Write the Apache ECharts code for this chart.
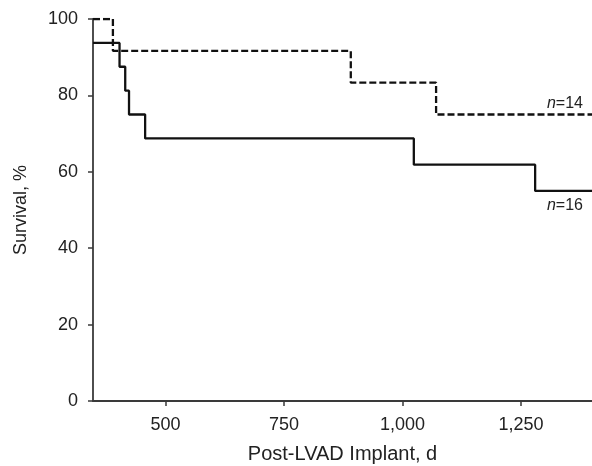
<!DOCTYPE html>
<html>
<head>
<meta charset="utf-8">
<script src="https://cdn.jsdelivr.net/npm/echarts@6/dist/echarts.min.js"></script>
<style>html,body{margin:0;padding:0;background:#fff}#c{width:592px;height:466px}</style>
</head>
<body>
<div id="c"></div>
<script>
// Kaplan-Meier step data (days post-LVAD implant, survival %)
var dashedDays = [347, 389, 891, 1071, 1400];
var dashedSurv = [100, 91.67, 83.33, 75, 75];
var solidDays = [347, 403, 415, 423, 457, 1024, 1280, 1400];
var solidSurv = [93.75, 87.5, 81.25, 75, 68.75, 61.875, 55, 55];
var xTicks = [500, 750, 1000, 1250];
var dashedLabel = '14';
var solidLabel = '16';

var font = 'Liberation Sans, Arial, sans-serif';
var axisColor = '#3a3a3a';
var textColor = '#222';

function pairs(xs, ys) { return xs.map(function (x, i) { return [x, ys[i]]; }); }

var chart = echarts.init(document.getElementById('c'));
var xMin = 347, xMax = 1400;
chart.setOption({
  animation: false,
  grid: { left: 93, right: 0, top: 19, bottom: 65, containLabel: false, outerBoundsMode: 'none' },
  xAxis: {
    type: 'value', min: xMin, max: xMax,
    name: 'Post-LVAD Implant, d', nameLocation: 'middle', nameGap: 43,
    nameTextStyle: { fontFamily: font, fontSize: 20, color: textColor },
    axisLine: { lineStyle: { color: axisColor, width: 1.8 } },
    axisTick: { show: true, length: 5, inside: false, customValues: xTicks, lineStyle: { color: axisColor, width: 1.5 } },
    axisLabel: { customValues: xTicks, margin: 15, fontFamily: font, fontSize: 18, color: textColor,
      formatter: function (v) { return v.toLocaleString('en-US'); } },
    splitLine: { show: false }
  },
  yAxis: {
    type: 'value', min: 0, max: 100, interval: 20,
    name: 'Survival, %', nameLocation: 'middle', nameGap: 63,
    nameTextStyle: { fontFamily: font, fontSize: 18, color: textColor },
    axisLine: { show: true, lineStyle: { color: axisColor, width: 1.8 } },
    axisTick: { show: true, length: 5, lineStyle: { color: axisColor, width: 1.5 } },
    axisLabel: { margin: 15, fontFamily: font, fontSize: 18, color: textColor },
    splitLine: { show: false }
  },
  series: [
    {
      type: 'line', step: 'end', data: pairs(dashedDays, dashedSurv),
      symbol: 'none', lineStyle: { color: '#111', width: 2.3, type: [7, 3] }
    },
    {
      type: 'line', step: 'end', data: pairs(solidDays, solidSurv),
      symbol: 'none', lineStyle: { color: '#111', width: 2.3, type: 'solid' }
    }
  ]
});

var p1 = chart.convertToPixel({ gridIndex: 0 }, [xMax, dashedSurv[dashedSurv.length - 1]]);
var p2 = chart.convertToPixel({ gridIndex: 0 }, [xMax, solidSurv[solidSurv.length - 1]]);
function nLabel(p, n, below) {
  return {
    type: 'text', x: p[0] - 9, y: below ? p[1] + 7 : p[1] - 3,
    style: {
      text: '{i|n}=' + n,
      rich: { i: { fontStyle: 'italic', fontFamily: font, fontSize: 16, fill: textColor } },
      fontFamily: font, fontSize: 16, fill: textColor,
      align: 'right', verticalAlign: below ? 'top' : 'bottom'
    }
  };
}
chart.setOption({ graphic: [nLabel(p1, dashedLabel, false), nLabel(p2, solidLabel, true)] });
</script>
</body>
</html>
